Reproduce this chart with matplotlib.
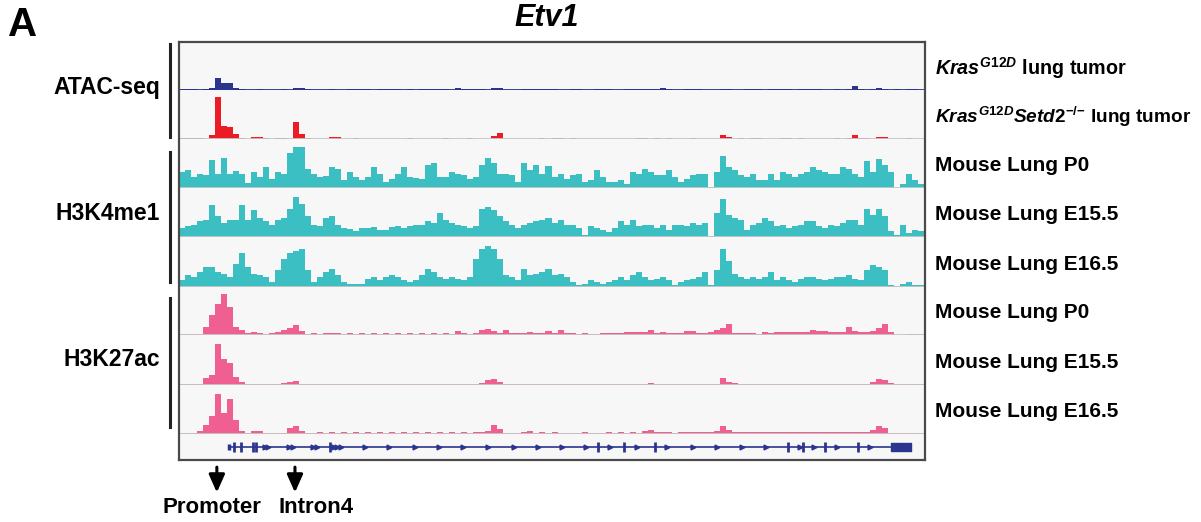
import numpy as np
import matplotlib
matplotlib.use("Agg")
import matplotlib.pyplot as plt
from matplotlib.lines import Line2D

plt.rcParams['font.family'] = ['Liberation Sans', 'DejaVu Sans']
plt.rcParams['mathtext.fontset'] = 'custom'
plt.rcParams['mathtext.it'] = 'Liberation Sans:bold:italic'
plt.rcParams['mathtext.rm'] = 'Liberation Sans:bold'
plt.rcParams['mathtext.bf'] = 'Liberation Sans:bold'

# ---- signal per bin (124 bins across the locus) ----
atac_kras = [0.5,0.5,0.5,0,0.5,2,12,7,7,2,
             1,0,0,0.5,0,0,0,0.8,0,1.5,
             1.5,1,0,0,0,0.8,0,0,0.8,0.5,
             0.5,0.5,0,0.6,0.5,0.5,0.5,0,0.5,0,
             0.5,0.6,0.5,0.5,0.5,0,2,1,1,0.7,
             0.5,0,2,1.5,0,0,0,0.6,0.5,0.8,
             0.5,0.5,0.6,0,0,0.6,0.5,0,0,0.5,
             0.5,0.6,0,0,0.5,0.5,0.8,0.6,0.5,0.6,
             2,0.6,0,0,0.5,1,0.5,0,0,0,
             0.8,0.5,0,0,0.5,0.6,0.5,0,0.5,0.6,
             0.6,0.5,0,0.6,0.8,0.6,0.5,0,0,0.6,
             0,0.6,4,0.8,0,1.2,2,1.2,0,0.5,
             0,0.5,0.5,0]
atac_setd2 = [0.5,0.5,0.5,0.5,0,4,41,13,12,5,
              1,0,1.5,1.5,1,0,1,1,0,17,
              5,1,0,0,0,1.5,1.5,0,0,0.6,
              0,0,0,0,0,0,0,0,0.6,0,
              0,0,0,0,0.6,0,0,0,0.6,0,
              0,0,3,6,0,0,0,0,0,0,
              0.6,0,0.6,0.6,0,0.5,0,0,0,0,
              0,0,0,0,0,0,0.7,0.7,0,0.6,
              0,0.6,0,0,0,0.6,0,0,0,0,
              3.5,1.5,0,0.6,0,0.6,0.6,0,0,0,
              0.6,0.6,0,0.6,0,0,0,0,0,0.6,
              0,0.6,3.5,0.6,0.6,0,2,1.5,0,0,
              0,0.6,0,0]
k4_p0 = [16,18,11,14,13,27,14,29,14,17,
         14,5,16,11,21,9,16,14,34,40,
         40,19,14,11,12,21,19,8,16,11,
         8,11,21,14,6,9,14,21,11,10,
         9,23,24,11,11,16,14,13,9,11,
         23,29,24,14,14,13,6,24,18,23,
         14,22,11,14,9,13,14,6,8,18,
         11,6,6,8,4,16,14,19,16,13,
         13,18,11,6,9,13,14,14,1,16,
         31,21,18,13,11,14,8,8,14,8,
         16,14,11,14,16,21,18,16,14,14,
         21,19,14,11,26,16,28,23,16,0,
         4,14,8,4]
k4_e155 = [9,11,12,16,17,31,21,14,17,17,
           31,17,26,19,16,12,17,19,27,39,
           32,21,12,11,19,21,12,9,8,6,
           9,9,10,7,7,10,11,9,11,12,
           12,16,14,24,17,14,12,11,9,11,
           27,29,26,21,16,12,9,12,14,16,
           17,19,14,17,12,12,9,2,11,9,
           7,5,9,16,12,17,11,12,12,9,
           12,7,12,12,11,14,12,14,1,24,
           37,22,19,17,7,12,14,19,16,11,
           12,9,11,12,16,16,11,9,12,11,
           14,17,17,12,27,22,27,21,6,2,
           12,4,7,6]
k4_e165 = [7,12,10,15,20,20,15,13,10,23,
           33,20,13,12,10,5,17,27,33,35,
           37,17,5,10,15,18,12,5,3,3,
           3,8,10,7,10,12,10,7,5,7,
           12,18,15,10,8,10,8,7,10,27,
           37,40,37,27,12,10,7,18,12,13,
           15,18,12,13,10,5,2,3,7,5,
           3,5,7,10,7,12,15,10,7,8,
           10,7,2,5,7,8,10,15,2,17,
           37,25,13,10,8,10,8,10,15,7,
           10,7,5,8,10,10,8,7,8,10,
           10,12,8,7,17,22,20,17,2,1,
           3,5,2,2]
k27_p0 = [1,1,1,1,8,20,30,40,27,8,
          5,2,3,2,1,2,3,5,7,10,
          4,1,1.5,1,1.5,2,1.5,1,1.5,1,
          1.5,1,1.5,1,1.5,1,1.5,1,1.5,1,
          1.5,1,1.5,1,1.5,1,4,1.5,1,2,
          5,6,4,2,5,2,1.5,1.5,3,1.5,
          2,4,1.5,5,1.5,2,1,1.5,0.5,1,
          1.5,2,2,2,2.5,3,2.5,3,5,2,
          3,2,1.5,2,4,4,2,1.5,2.5,5,
          7,11,2,1.5,2,2,1,2.5,2,2.5,
          2.5,2.5,3,2.5,3,5,4,4,3,3,
          3,8,4,3,3,4,7,11,3,0,
          0,1,1,1]
k27_e155 = [0.5,0.5,0.5,0.5,7,10,40,25,22,8,
            3,1,1,1,1,1,1,2,3,4,
            1,1,1,0.8,1,1,0.8,1,1,0.8,
            1,1,0.8,1,1,0.8,1,1,0.8,1,
            1,0.8,1,1,0.8,1,1,0.8,1,1,
            2,5,6,3,0.7,0.7,0.5,0.7,0.5,0.7,
            0.7,0.5,0.7,0.5,0.7,0.5,0.5,0.7,0.5,0.7,
            1,1,0.7,1,1,1,1,1,2,1,
            1,1,1,1,1,1,1,1,0.7,1,
            7,3,1.5,1,1,0.8,1,0.7,1,1,
            1,1,1,1,1,1,1,1,1,1,
            1,1,1,1,1,3,6,5,2,0.5,
            0.5,0.5,0.5,0.5]
k27_e165 = [1,1,1,3,9,18,39,21,34,14,
            3,1,3,3,1,1,1,1,6,8,
            3,1,1,1.5,1,1.5,1,1.5,1,1.5,
            1,1.5,1,1.5,1,1.5,1,1.5,1,1.5,
            1,1.5,1,1.5,1,1.5,1,1.5,1,1.5,
            1.5,3,9,5,1,1,1,1.5,3,1,
            1.5,1,1.5,1,1,1,1,1.5,1,1,
            1,1.5,1,1.5,1,1.5,1,3,4,2,
            2,1.5,1,1.5,2,2,2,2,1.5,3,
            8,4,2,2,2,2,1.5,1.5,1.5,1.5,
            1.5,1.5,1.5,1.5,1.5,1.5,1.5,1.5,1.5,1.5,
            1.5,1.5,1.5,1.5,1.5,4,8,6,1,0.5,
            0.5,0.5,0.5,0.5]

track_labels = [r'$\mathit{Kras}^{\mathit{G12D}}$ lung tumor',
                r'$\mathit{Kras}^{\mathit{G12D}}\mathit{Setd2}^{\mathit{{-}/{-}}}$ lung tumor',
                'Mouse Lung P0', 'Mouse Lung E15.5', 'Mouse Lung E16.5',
                'Mouse Lung P0', 'Mouse Lung E15.5', 'Mouse Lung E16.5']
label_sizes = [14.2, 13.7, 15, 15, 15, 15, 15, 15]

# gene model (Etv1), same bin coordinates
gene_start, gene_end = 8.3, 121.8
exons = [9.2, 10.3, 12.3, 12.8, 25.2, 69.8, 74.0, 79.3, 101.3, 103.8, 107.5, 113.0]
utr_box = (118.5, 121.8)
strand_marks = [14.3, 14.8, 18.3, 19.0, 22.3, 23.0, 25.8, 26.3, 27.0, 31.0, 35.0,
                39.2, 43.3, 47.3, 51.5, 55.7, 59.8, 63.8, 67.8, 71.8, 76.2, 81.3,
                85.5, 89.5, 93.7, 97.7, 103.3, 105.7, 109.5, 115.0]
promoter_pos, intron4_pos = 6.3, 19.3

W, H = 1201, 522
fig = plt.figure(figsize=(W / 100, H / 100), dpi=100)


def box(x0, y0, x1, y1):
    return [x0 / W, 1 - y1 / H, (x1 - x0) / W, (y1 - y0) / H]


BLUE = '#2b3590'
RED = '#ec1c24'
TEAL = '#3bbfc3'
PINK = '#ef5f92'
BG = '#f7f7f7'

signals = [atac_kras, atac_setd2, k4_p0, k4_e155, k4_e165, k27_p0, k27_e155, k27_e165]
colors = [BLUE, RED, TEAL, TEAL, TEAL, PINK, PINK, PINK]
tops = [42, 90, 139, 188, 237, 287, 335, 385]
bottoms = [90, 139, 188, 237, 287, 335, 385, 434]
PX0, PX1 = 179, 924
nb = len(k4_p0)

for vals, col, t, b, lab, fs in zip(signals, colors, tops, bottoms, track_labels, label_sizes):
    ax = fig.add_axes(box(PX0, t, PX1, b))
    ax.set_facecolor(BG)
    ax.stairs(vals, np.arange(len(vals) + 1), fill=True, color=col, lw=0)
    ax.set_xlim(0, nb)
    ax.set_ylim(0, b - t - 1)
    ax.set_xticks([])
    ax.set_yticks([])
    for s in ['top', 'left', 'right']:
        ax.spines[s].set_visible(False)
    ax.spines['bottom'].set_color(BLUE if col == BLUE else '#c6c6c6')
    ax.spines['bottom'].set_linewidth(1.3)
    fig.text(935 / W, 1 - ((t + b) / 2 + 2) / H, lab, fontsize=fs,
             fontweight='bold', ha='left', va='center')

# gene track
gax = fig.add_axes(box(PX0, 434, PX1, 460))
gax.set_facecolor(BG)
gax.set_xlim(0, nb)
gax.set_ylim(-1, 1)
gax.hlines(0, gene_start, gene_end, color=BLUE, lw=1.2)
gax.vlines(exons, -0.38, 0.38, color=BLUE, lw=2)
gax.vlines([gene_start], -0.2, 0.2, color=BLUE, lw=2.5)
gax.broken_barh([(utr_box[0], utr_box[1] - utr_box[0])], (-0.3, 0.6), color=BLUE)
gax.plot(strand_marks, [0] * len(strand_marks), ls='none', marker='>',
         ms=3.5, color=BLUE)
gax.set_xticks([])
gax.set_yticks([])
for s in gax.spines.values():
    s.set_visible(False)

# arrows to promoter / intron 4
for pos, txt, tx in [(promoter_pos, 'Promoter', 5.5), (intron4_pos, 'Intron4', 22.8)]:
    gax.annotate('', xy=(pos, -3.5), xytext=(pos, -1.55),
                 arrowprops=dict(arrowstyle='-|>,head_width=0.4,head_length=0.9',
                                 lw=2.2, color='black', mutation_scale=12,
                                 shrinkA=0, shrinkB=0),
                 annotation_clip=False)
    gax.text(tx, -4.65, txt, ha='center', va='center', fontsize=16,
             fontweight='bold', clip_on=False)

# panel frame
fax = fig.add_axes(box(PX0, 42, PX1 + 1, 460))
fax.patch.set_visible(False)
fax.set_xticks([])
fax.set_yticks([])
for s in fax.spines.values():
    s.set_color('#4a4a4a')
    s.set_linewidth(1.6)

# group bars and labels on the left
groups = [('ATAC-seq', 44, 137), ('H3K4me1', 152, 282), ('H3K27ac', 298, 427)]
for name, y0, y1 in groups:
    fig.add_artist(Line2D([170 / W, 170 / W], [1 - y0 / H, 1 - y1 / H],
                          transform=fig.transFigure, color='#222222', lw=2.2))
    fig.text(160 / W, 1 - ((y0 + y1) / 2 - 3) / H, name, fontsize=16.5,
             fontweight='bold', ha='right', va='center')

fig.text(547 / W, 1 - 18 / H, 'Etv1', fontsize=22, fontweight='bold',
         fontstyle='italic', ha='center', va='center')
fig.text(8 / W, 1 - 25 / H, 'A', fontsize=29, fontweight='bold',
         ha='left', va='center')

fig.savefig('out.png', dpi=100)
